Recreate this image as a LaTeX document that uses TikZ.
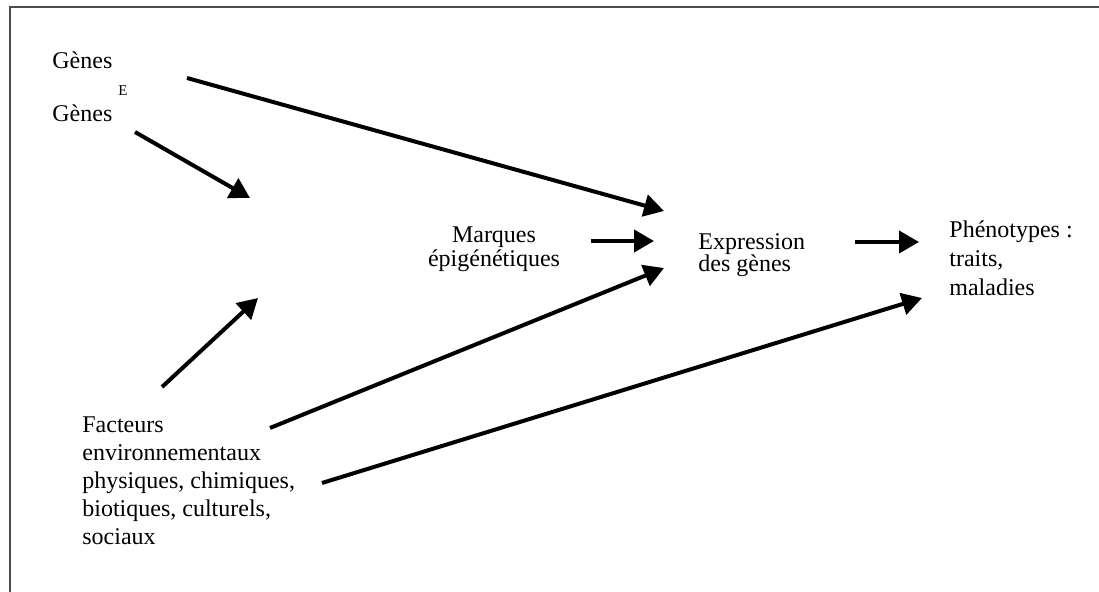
\documentclass[tikz,border=0pt]{standalone}
\usepackage{fontspec}
\setmainfont{Liberation Serif}
\usetikzlibrary{arrows.meta}

\tikzset{
  fleche/.style={line width=2pt,-{Triangle[length=10pt,width=11pt]}},
  etiquette/.style={inner sep=0pt,anchor=base west,align=left}
}

\begin{document}
\begin{tikzpicture}[x=0.5pt,y=-0.5pt]
\useasboundingbox (0,0) rectangle (1099,592);

%cadre
\draw[black!70,line width=0.8pt] (10,592)--(10,7)--(1099,7);

%textes (base = ligne du bas)
\node[etiquette,font=\fontsize{12}{14}\selectfont] (genesA) at (52,69) {Gènes};
\node[etiquette,font=\fontsize{7.5}{9}\selectfont] (exposant) at (118,96) {E};
\node[etiquette,font=\fontsize{12}{14}\selectfont] (genesB) at (52,122) {Gènes};
\node[etiquette,anchor=base,align=center,font=\fontsize{12}{12.25}\selectfont] (marques) at (494,267) {Marques\\épigénétiques};
\node[etiquette,font=\fontsize{12}{11}\selectfont] (expression) at (698,272) {Expression\\des gènes};
\node[etiquette,font=\fontsize{12}{14.5}\selectfont] (phenotypes) at (949,296) {Phénotypes :\\traits,\\maladies};
\node[etiquette,font=\fontsize{12}{14}\selectfont] (facteurs) at (82,545) {Facteurs\\environnementaux\\physiques, chimiques,\\biotiques, culturels,\\sociaux};

%bouts des fleches
\coordinate (gA) at (187,78);  \coordinate (eA) at (664,211);
\coordinate (gB) at (135,132); \coordinate (cB) at (250,198);
\coordinate (fA) at (162,387); \coordinate (cA) at (258,298);
\coordinate (mA) at (591,241); \coordinate (eB) at (654,241);
\coordinate (fB) at (270,428); \coordinate (eC) at (664,268);
\coordinate (xA) at (855,242); \coordinate (pA) at (919,242);
\coordinate (fC) at (322,483); \coordinate (pB) at (922,298);

%fleches
\draw[fleche] (gA)--(eA); \draw[fleche] (gB)--(cB); \draw[fleche] (fA)--(cA);
\draw[fleche] (mA)--(eB); \draw[fleche] (fB)--(eC);
\draw[fleche] (xA)--(pA); \draw[fleche] (fC)--(pB);

\end{tikzpicture}
\end{document}
